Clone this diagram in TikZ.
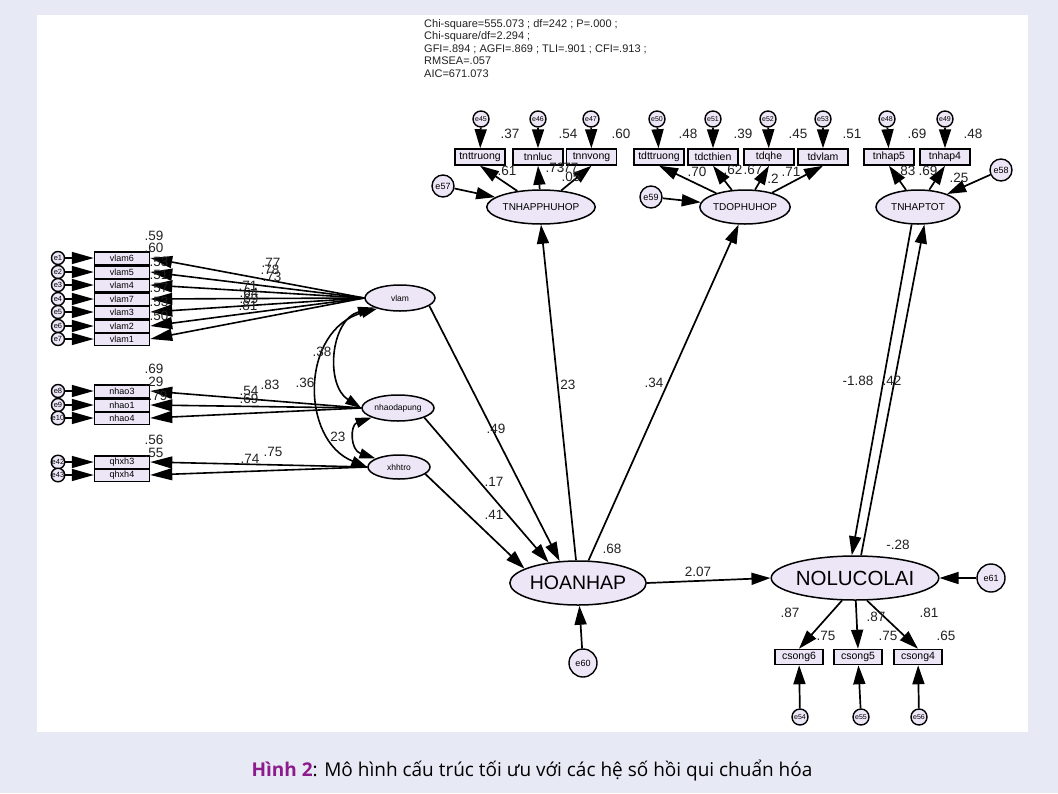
\documentclass[tikz,border=0pt]{standalone}
\usepackage{fontspec}
\setmainfont{Liberation Sans}
\newfontfamily\capfont{Open Sans}
\usetikzlibrary{shapes.geometric,arrows.meta}
\definecolor{bgc}{HTML}{E7EAF4}
\definecolor{nfill}{HTML}{ECE6F6}
\definecolor{capred}{HTML}{8E1B8C}
\definecolor{txt}{HTML}{222222}
\begin{document}
\begin{tikzpicture}[x=1pt,y=-1pt,
  obs/.style={rectangle,draw,line width=1.5pt,fill=nfill,inner sep=0pt,minimum width=50pt,minimum height=16pt,font=\fontsize{10.5}{11}\selectfont},
  lobs/.style={obs,minimum width=55pt,minimum height=12.5pt,font=\fontsize{9}{9}\selectfont},
  lat/.style={ellipse,draw,line width=1.5pt,fill=nfill,inner sep=0pt,font=\fontsize{10}{10}\selectfont},
  err/.style={circle,draw,line width=1.4pt,fill=nfill,inner sep=0pt,minimum size=16pt,font=\fontsize{7}{7}\selectfont},
  lerr/.style={err,minimum size=13pt,font=\fontsize{7.5}{7.5}\selectfont},
  berr/.style={err,minimum size=24pt,font=\fontsize{9}{9}\selectfont},
  arr/.style={line width=1.7pt,-{Triangle[length=19pt,width=12pt]}},
  larr/.style={line width=1.6pt,-{Triangle[length=22pt,width=12pt]}},
  carr/.style={line width=1.6pt,{Triangle[length=16pt,width=10pt]}-{Triangle[length=16pt,width=10pt]}},
  lbl/.style={font=\fontsize{13.5}{13.5}\selectfont,text=txt,inner sep=0pt},
]
\fill[bgc] (0,0) rectangle (1058,793);
\fill[white] (37,15) rectangle (1028,732);
\useasboundingbox (0,0) rectangle (1058,793);

% stats
\node[anchor=north west,align=left,inner sep=0pt,font=\fontsize{11}{12.5}\selectfont,text=txt] (stats) at (424,19)
 {Chi-square=555.073 ; df=242 ; P=.000 ;\\Chi-square/df=2.294 ;\\GFI=.894 ; AGFI=.869 ; TLI=.901 ; CFI=.913 ;\\RMSEA=.057\\AIC=671.073};

% ---- group 1
\node[obs] (tnt) at (480,157) {tnttruong};
\node[obs] (tnl) at (538,157) {tnnluc};
\node[obs] (tnv) at (591.5,157) {tnnvong};
\node[err] (e45) at (481,119) {e45};
\node[err] (e46) at (538,119) {e46};
\node[err] (e47) at (591,119) {e47};
\node[lat,minimum width=94pt,minimum height=34pt] (TNP) at (541,207) {TNHAPPHUHOP};
\node[berr,minimum size=22pt] (e57) at (443,186) {e57};
\foreach \a/\b in {e45/tnt,e46/tnl,e47/tnv} \draw[arr] (\a) -- (\b);
\draw[arr] (TNP) -- (tnt.south);
\draw[arr] (TNP) -- (tnl.south);
\draw[arr] (TNP) -- (tnv.south);
\draw[arr] (e57) -- (TNP);
\node[lbl] at (510,134) {.37};
\node[lbl] at (568,134) {.54};
\node[lbl] at (621,134) {.60};
\node[lbl] at (507,171) {.61};
\node[lbl] at (555,168) {.73};
\node[lbl] at (569,168) {.77};
\node[lbl] at (571,177) {.05};

% ---- group 2
\node[obs] (tdt) at (659,157) {tdttruong};
\node[obs] (tdc) at (713,157) {tdcthien};
\node[obs] (tdq) at (769,157) {tdqhe};
\node[obs] (tdv) at (823,157) {tdvlam};
\node[err] (e50) at (657,119) {e50};
\node[err] (e51) at (713,119) {e51};
\node[err] (e52) at (768,119) {e52};
\node[err] (e53) at (823,119) {e53};
\node[lat,minimum width=80pt,minimum height=34pt] (TDP) at (745,207) {TDOPHUHOP};
\node[berr,minimum size=22pt] (e59) at (651,197) {e59};
\foreach \a/\b in {e50/tdt,e51/tdc,e52/tdq,e53/tdv} \draw[arr] (\a) -- (\b);
\foreach \b in {tdt,tdc,tdq,tdv} \draw[arr] (TDP) -- (\b.south);
\draw[arr] (e59) -- (TDP);
\node[lbl] at (688,134) {.48};
\node[lbl] at (743,134) {.39};
\node[lbl] at (798,134) {.45};
\node[lbl] at (852,134) {.51};
\node[lbl] at (697,172) {.70};
\node[lbl] at (733,170) {.62};
\node[lbl] at (753,170) {.67};
\node[lbl] at (773,179) {.2};
\node[lbl] at (791,172) {.71};

% ---- group 3
\node[obs] (tn5) at (889,157) {tnhap5};
\node[obs] (tn4) at (945,157) {tnhap4};
\node[err] (e48) at (887,119) {e48};
\node[err] (e49) at (945,119) {e49};
\node[lat,minimum width=84pt,minimum height=34pt] (TNT) at (918,207) {TNHAPTOT};
\node[berr,minimum size=22pt] (e58) at (1001,170) {e58};
\draw[arr] (e48) -- (tn5);
\draw[arr] (e49) -- (tn4);
\draw[arr] (TNT) -- (tn5.south);
\draw[arr] (TNT) -- (tn4.south);
\draw[arr] (e58) -- (TNT);
\node[lbl] at (917,134) {.69};
\node[lbl] at (973,134) {.48};
\node[lbl] at (906,171) {.83};
\node[lbl] at (928,171) {.69};
\node[lbl] at (959,178) {.25};

% ---- left latent factors
\node[lat,minimum width=70pt,minimum height=26pt,font=\fontsize{8.5}{8.5}\selectfont] (vlam) at (400,298) {vlam};
\node[lat,minimum width=72pt,minimum height=26pt,font=\fontsize{8.5}{8.5}\selectfont] (nh) at (398,408) {nhaodapung};
\node[lat,minimum width=62pt,minimum height=24pt,font=\fontsize{8.5}{8.5}\selectfont] (xh) at (399,467) {xhhtro};

\foreach \n/\t/\y/\e in {v6/vlam6/258/e1,v5/vlam5/272/e2,v4/vlam4/285/e3,v7/vlam7/299/e4,v3/vlam3/312/e5,v2/vlam2/326/e6,v1/vlam1/339/e7}{
  \node[lobs] (\n) at (122,\y) {\t};
  \node[lerr] (\e) at (58,\y) {\e};
  \draw[larr] (\e) -- (\n.west);
  \draw[larr] (vlam.west) -- (\n.east);
}
\foreach \n/\t/\y/\e in {n3/nhao3/391/e8,n1/nhao1/405/e9,n4/nhao4/418/e10}{
  \node[lobs] (\n) at (122,\y) {\t};
  \node[lerr] (\e) at (58,\y) {\e};
  \draw[larr] (\e) -- (\n.west);
  \draw[larr] (nh.west) -- (\n.east);
}
\foreach \n/\t/\y/\e in {q3/qhxh3/462/e42,q4/qhxh4/475/e43}{
  \node[lobs] (\n) at (122,\y) {\t};
  \node[lerr] (\e) at (58,\y) {\e};
  \draw[larr] (\e) -- (\n.west);
  \draw[larr] (xh.west) -- (\n.east);
}
% R2 labels left
\node[lbl] at (154,236) {.59};
\node[lbl] at (154,248) {.60};
\node[lbl] at (159,262) {.53};
\node[lbl] at (159,275) {.51};
\node[lbl] at (159,288) {.57};
\node[lbl] at (159,302) {.53};
\node[lbl] at (159,316) {.50};
\node[lbl] at (154,369) {.69};
\node[lbl] at (154,382) {.29};
\node[lbl] at (158,396) {.79};
\node[lbl] at (154,440) {.56};
\node[lbl] at (154,453) {.55};
% loadings left
\node[lbl] at (271,263) {.77};
\node[lbl] at (270,270) {.78};
\node[lbl] at (272,277) {.73};
\node[lbl] at (248,286) {.71};
\node[lbl] at (249,293) {.64};
\node[lbl] at (249,299) {.69};
\node[lbl] at (248,306) {.81};
\node[lbl] at (249,391) {.54};
\node[lbl] at (270,385) {.83};
\node[lbl] at (249,399) {.69};
\node[lbl] at (250,459) {.74};
\node[lbl] at (273,452) {.75};

% covariances
\draw[carr] (vlam.200) .. controls (330,320) and (325,385) .. (nh.west);
\draw[carr] (vlam.205) .. controls (300,330) and (300,440) .. (xh.west);
\draw[carr] (nh.200) .. controls (350,425) and (350,450) .. (xh.160);
\node[lbl] at (322,352) {.38};
\node[lbl] at (305,383) {.36};
\node[lbl] at (336,437) {.23};

% ---- structural part
\node[lat,minimum width=114pt,minimum height=44pt,font=\fontsize{19.5}{20}\selectfont] (HO) at (578,583) {HOANHAP};
\node[berr,minimum size=28pt] (e60) at (583,663) {e60};
\node[lat,minimum width=134pt,minimum height=44pt,font=\fontsize{20.5}{21}\selectfont] (NO) at (855,578) {NOLUCOLAI};
\node[berr,minimum size=28pt] (e61) at (991,578) {e61};

\draw[arr] (vlam.345) -- (HO.130);
\draw[arr] (nh.340) -- (HO.145);
\draw[arr] (xh.345) -- (HO.165);
\draw[arr] (e60) -- (HO);
\draw[arr] (HO.95) -- (TNP.south);
\draw[arr] (HO.65) -- (TDP.250);
\draw[arr] (HO.east) -- (NO.west);
\draw[arr] (e61) -- (NO);
\draw[arr] (TNT.250) -- (NO.98);
\draw[arr] (NO.75) -- (TNT.290);
\node[lbl] at (496,429) {.49};
\node[lbl] at (494,482) {.17};
\node[lbl] at (494,515) {.41};
\node[lbl] at (566,385) {.23};
\node[lbl] at (654,383) {.34};
\node[lbl] at (612,549) {.68};
\node[lbl] at (698,572) {2.07};
\node[lbl] at (858,381) {-1.88};
\node[lbl] at (892,381) {.42};
\node[lbl] at (898,545) {-.28};

% csong
\node[obs,minimum width=48pt,minimum height=15pt] (c6) at (799,657) {csong6};
\node[obs,minimum width=48pt,minimum height=15pt] (c5) at (858,657) {csong5};
\node[obs,minimum width=48pt,minimum height=15pt] (c4) at (918,657) {csong4};
\node[err] (e54) at (800,717) {e54};
\node[err] (e55) at (861,717) {e55};
\node[err] (e56) at (919,717) {e56};
\draw[arr] (NO.240) -- (c6.north);
\draw[arr] (NO.272) -- (c5.north);
\draw[arr] (NO.298) -- (c4.north);
\draw[arr] (e54) -- (c6);
\draw[arr] (e55) -- (c5);
\draw[arr] (e56) -- (c4);
\node[lbl] at (790,613) {.87};
\node[lbl] at (826,636) {.75};
\node[lbl] at (876,617) {.87};
\node[lbl] at (888,636) {.75};
\node[lbl] at (929,613) {.81};
\node[lbl] at (946,636) {.65};

% caption
\node[font=\capfont\fontsize{19}{21}\selectfont,inner sep=0pt] (cap) at (532,770)
 {\textcolor{capred}{\bfseries Hình 2}: Mô hình cấu trúc tối ưu với các hệ số hồi qui chuẩn hóa};
\end{tikzpicture}
\end{document}
